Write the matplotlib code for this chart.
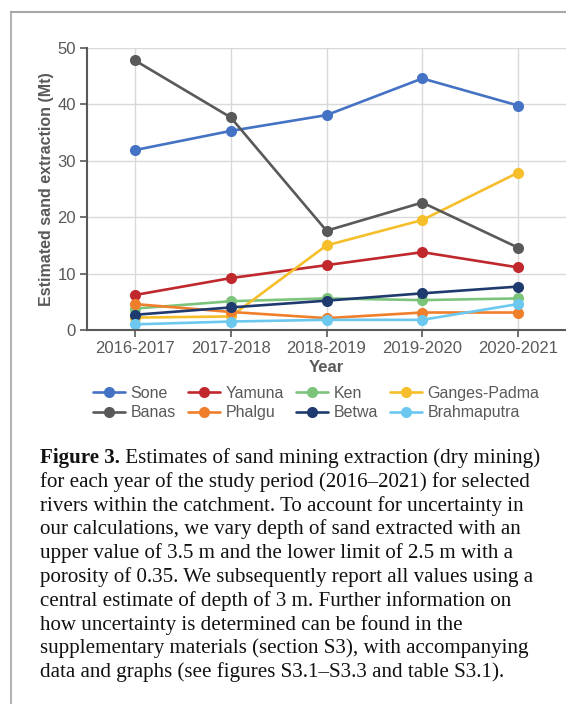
import matplotlib
matplotlib.use('Agg')
import matplotlib.pyplot as plt
from matplotlib.lines import Line2D

# Estimated dry sand extraction per river (Mt), central depth estimate of 3 m
years = ['2016-2017', '2017-2018', '2018-2019', '2019-2020', '2020-2021']
rivers = ['Sone', 'Yamuna', 'Ken', 'Ganges-Padma', 'Banas', 'Phalgu', 'Betwa', 'Brahmaputra']
sone = [31.9, 35.3, 38.1, 44.6, 39.8]
yamuna = [6.2, 9.2, 11.5, 13.8, 11.1]
ken = [3.8, 5.1, 5.6, 5.3, 5.6]
ganges_padma = [2.2, 2.4, 15.0, 19.5, 27.9]
banas = [47.8, 37.7, 17.6, 22.6, 14.6]
phalgu = [4.6, 3.2, 2.1, 3.1, 3.1]
betwa = [2.7, 4.0, 5.2, 6.5, 7.7]
brahmaputra = [1.0, 1.5, 1.8, 1.8, 4.6]

series = [sone, yamuna, ken, ganges_padma, banas, phalgu, betwa, brahmaputra]
colors = ['#4472c4', '#c0282d', '#7cc47c', '#f5be2a',
          '#595959', '#f07f2c', '#1f3a6e', '#6cc8ee']

caption_lines = [
    'for each year of the study period (2016\u20132021) for selected',
    'rivers within the catchment. To account for uncertainty in',
    'our calculations, we vary depth of sand extracted with an',
    'upper value of 3.5 m and the lower limit of 2.5 m with a',
    'porosity of 0.35. We subsequently report all values using a',
    'central estimate of depth of 3 m. Further information on',
    'how uncertainty is determined can be found in the',
    'supplementary materials (section S3), with accompanying',
    'data and graphs (see figures S3.1\u2013S3.3 and table S3.1).',
]

W, H = 566, 704
plt.rcParams['font.family'] = ['Liberation Sans', 'DejaVu Sans']
fig = plt.figure(figsize=(W / 100, H / 100), dpi=100)
fig.patch.set_facecolor('white')

def px(x, y):
    return x / W, 1 - y / H

ax = fig.add_axes([87 / W, 1 - 330 / H, 1 - 87 / W, (330 - 48) / H])
xs = list(range(len(years)))
handles = []
for name, vals, c in zip(rivers, series, colors):
    h, = ax.plot(xs, vals, color=c, lw=1.9, marker='o', markersize=8,
                 markeredgewidth=0, label=name, solid_capstyle='round')
    handles.append(h)

gray = '#595959'
ax.set_xlim(-0.5, len(years) - 0.5)
ax.set_ylim(0, 50)
ax.set_xticks(xs)
ax.set_xticklabels(years)
ax.set_yticks([0, 10, 20, 30, 40, 50])
ax.grid(True, color='#d9d9d9', lw=1)
ax.set_axisbelow(True)
for s in ['top', 'right']:
    ax.spines[s].set_visible(False)
for s in ['left', 'bottom']:
    ax.spines[s].set_color(gray)
    ax.spines[s].set_linewidth(1.5)
ax.tick_params(colors=gray, labelsize=12, length=5, width=1.2, pad=3)
ax.set_ylabel('Estimated sand extraction (Mt)', fontsize=11.5, fontweight='bold',
              color=gray, labelpad=2)
ax.set_xlabel('Year', fontsize=12, fontweight='bold', color=gray, labelpad=3)

# legend is filled column by column, so interleave the two rows
order = [0, 4, 1, 5, 2, 6, 3, 7]
leg = fig.legend([handles[i] for i in order], [rivers[i] for i in order],
                 ncol=4, loc='center left', bbox_to_anchor=px(82, 403),
                 frameon=False, fontsize=11.5, handlelength=2.0,
                 handletextpad=0.35, columnspacing=0.75, labelspacing=0.3,
                 borderpad=0.2)
for t in leg.get_texts():
    t.set_color(gray)

# thin frame on the top and left of the panel
fig.add_artist(Line2D([11 / W, 11 / W], [0, 1 - 12 / H], color='#b4b4b4', lw=1.5))
fig.add_artist(Line2D([11 / W, 1], [1 - 12 / H, 1 - 12 / H], color='#a8a8a8', lw=1.5))

# caption, sized so the first line spans the text block
serif = ['Liberation Serif', 'DejaVu Serif']
renderer = fig.canvas.get_renderer()
first_rest = ' Estimates of sand mining extraction (dry mining)'
fs = 14.0
probe_b = fig.text(0, 0, 'Figure 3.', family=serif, fontweight='bold', fontsize=fs)
probe_r = fig.text(0, 0, first_rest, family=serif, fontsize=fs)
total = probe_b.get_window_extent(renderer).width + probe_r.get_window_extent(renderer).width
probe_b.remove()
probe_r.remove()
fs = fs * (542 - 40) / total

x0, y0, step = 40, 463, 23.8
bold = fig.text(*px(x0, y0), 'Figure 3.', family=serif, fontweight='bold',
                fontsize=fs, va='baseline', color='#111111')
bw = bold.get_window_extent(renderer).width
fig.text(*px(x0 + bw, y0), first_rest, family=serif, fontsize=fs,
         va='baseline', color='#111111')
for i, line in enumerate(caption_lines):
    fig.text(*px(x0, y0 + step * (i + 1)), line, family=serif, fontsize=fs,
             va='baseline', color='#111111')

fig.savefig('out.png', dpi=100)
